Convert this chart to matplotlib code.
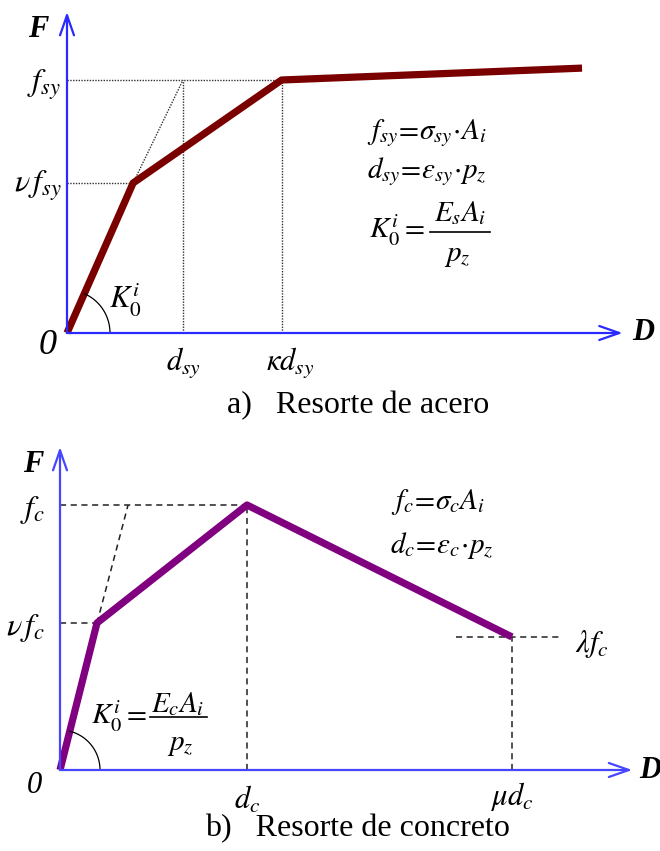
import numpy as np
import matplotlib
matplotlib.use("Agg")
import matplotlib.pyplot as plt

plt.rcParams['font.family'] = ['Liberation Serif', 'DejaVu Serif']
plt.rcParams['mathtext.fontset'] = 'stix'

# ================= 数据 =================
# a) 钢弹簧: x 以 d_sy 为单位, y 以 f_sy 为单位
acero_d = [0.0, 0.57, 1.85, 4.44]
acero_f = [0.0, 0.593, 1.0, 1.047]
acero_dsy = 1.0
acero_kdsy = 1.85
acero_fsy = 1.0
acero_nufsy = 0.593

# b) 混凝土弹簧: x 以 d_c 为单位, y 以 f_c 为单位
conc_d = [0.0, 0.198, 1.0, 2.417]
conc_f = [0.0, 0.555, 1.0, 0.502]
conc_dc = 1.0
conc_mudc = 2.417
conc_fc = 1.0
conc_nufc = 0.555
conc_lamfc = 0.502
conc_aux_d = 0.364   # 辅助虚线与 f_c 交点

LBL = 22      # 轴上符号
EQ = 21       # 公式
CAP = 23      # 图题
fig = plt.figure(figsize=(6.6, 8.51), dpi=100)

# ---------- 工具函数 ----------
def make_axes(rect, xlim, ylim):
    ax = fig.add_axes(rect)
    ax.set_xlim(*xlim)
    ax.set_ylim(*ylim)
    ax.axis('off')
    return ax

def axis_arrows(ax, xend, yend, color):
    style = '->,head_length=1.2,head_width=0.42'
    for tip in [(xend, 0), (0, yend)]:
        ax.annotate('', xy=tip, xytext=(0, 0),
                    arrowprops=dict(arrowstyle=style, color=color, lw=1.6, mutation_scale=12,
                                    shrinkA=0, shrinkB=0))

def angle_arc(ax, d1, f1, r_px, px_x, px_y):
    # 以像素比例计算初始刚度角
    ang = np.arctan2(f1 * px_y, d1 * px_x)
    t = np.linspace(0, ang, 60)
    ax.plot(r_px / px_x * np.cos(t), r_px / px_y * np.sin(t), color='black', lw=0.9)

def stiffness_eq(ax, num, lhs_xy, bar_x, bar_y, num_xy, den_xy):
    # K0 = num / p_z, 分式手动排版
    ax.text(*lhs_xy, r'$K_0^i=$', fontsize=EQ, ha='right', va='center')
    ax.plot(bar_x, [bar_y, bar_y], color='black', lw=1.2)
    ax.text(*num_xy, num, fontsize=EQ, ha='center', va='center')
    ax.text(*den_xy, r'$p_z$', fontsize=EQ, ha='center', va='center')

# ================= 图 a: Resorte de acero =================
# 像素比例: x 116 px/单位, y 253 px/单位, 原点 (67, 333)
ax1 = make_axes([0, 426 / 851, 1, 425 / 851], (-67 / 116, 593 / 116), ((333 - 425) / 253, 333 / 253))
axis_arrows(ax1, 4.79, 1.269, '#2a2aff')

dot = dict(color='#333333', lw=1.0, ls=(0, (1, 1)))
ax1.plot([0, acero_kdsy], [acero_fsy, acero_fsy], **dot)
ax1.plot([0, acero_d[1]], [acero_nufsy, acero_nufsy], **dot)
ax1.plot([acero_dsy, acero_dsy], [0, acero_fsy], **dot)
ax1.plot([acero_kdsy, acero_kdsy], [0, acero_fsy], **dot)
ax1.plot([acero_d[1], acero_dsy], [acero_nufsy, acero_fsy], **dot)

ax1.plot(acero_d, acero_f, color='#7a0000', lw=5.2, solid_capstyle='butt', solid_joinstyle='round')
angle_arc(ax1, acero_d[1], acero_f[1], 43, 116, 253)

ax1.text(-0.25, 1.20, 'F', fontsize=LBL, fontweight='bold', fontstyle='italic', ha='center', va='center')
ax1.text(4.97, 0, 'D', fontsize=LBL, fontweight='bold', fontstyle='italic', ha='center', va='center')
ax1.text(-0.17, -0.05, '0', fontsize=26, fontstyle='italic', ha='center', va='center')
ax1.text(-0.05, acero_fsy - 0.02, r'$f_{sy}$', fontsize=LBL + 1, ha='right', va='center')
ax1.text(-0.04, acero_nufsy - 0.01, r'$\nu\,f_{sy}$', fontsize=LBL + 1, ha='right', va='center')
ax1.text(acero_dsy, -0.12, r'$d_{sy}$', fontsize=LBL, ha='center', va='center')
ax1.text(acero_kdsy + 0.07, -0.12, r'$\kappa d_{sy}$', fontsize=LBL, ha='center', va='center')
ax1.text(0.5, 0.13, r'$K_0^i$', fontsize=LBL, ha='center', va='center')

ax1.text(3.10, 0.79, r'$f_{sy}\!=\!\sigma_{sy}\!\cdot\!A_i$', fontsize=EQ, ha='center', va='center')
ax1.text(3.10, 0.636, r'$d_{sy}\!=\!\varepsilon_{sy}\!\cdot\!p_z$', fontsize=EQ, ha='center', va='center')
stiffness_eq(ax1, r'$E_s A_i$', (3.086, 0.407), [3.129, 3.647], 0.399, (3.388, 0.474), (3.362, 0.304))

fig.text(358 / 660, 1 - 406 / 851, 'a)   Resorte de acero', fontsize=CAP, ha='center', va='center')

# ================= 图 b: Resorte de concreto =================
# 像素比例: x 187 px/单位, y 265 px/单位, 原点 (60, 770)
ax2 = make_axes([0, 0, 1, 426 / 851], (-60 / 187, 600 / 187), ((770 - 851) / 265, (770 - 425) / 265))
axis_arrows(ax2, 3.06, 1.219, '#4646ff')

dash = dict(color='#222222', lw=1.1, ls=(0, (4, 3)))
ax2.plot([0, conc_dc], [conc_fc, conc_fc], **dash)
ax2.plot([0, conc_d[1]], [conc_nufc, conc_nufc], **dash)
ax2.plot([conc_dc, conc_dc], [0, conc_fc], **dash)
ax2.plot([conc_mudc, conc_mudc], [0, conc_lamfc], **dash)
ax2.plot([conc_mudc - 0.3, conc_mudc + 0.27], [conc_lamfc, conc_lamfc], **dash)
ax2.plot([conc_d[1], conc_aux_d], [conc_nufc, conc_fc], **dash)

ax2.plot(conc_d, conc_f, color='#800080', lw=5.2, solid_capstyle='butt', solid_joinstyle='round')
angle_arc(ax2, conc_d[1], conc_f[1], 40, 187, 265)

ax2.text(-0.144, 1.151, 'F', fontsize=LBL, fontweight='bold', fontstyle='italic', ha='center', va='center')
ax2.text(3.155, 0, 'D', fontsize=LBL, fontweight='bold', fontstyle='italic', ha='center', va='center')
ax2.text(-0.134, -0.06, '0', fontsize=22, fontstyle='italic', ha='center', va='center')
ax2.text(-0.08, conc_fc - 0.02, r'$f_c$', fontsize=LBL + 1, ha='right', va='center')
ax2.text(-0.08, conc_nufc - 0.02, r'$\nu\,f_c$', fontsize=LBL + 1, ha='right', va='center')
ax2.text(conc_dc, -0.115, r'$d_c$', fontsize=LBL, ha='center', va='center')
ax2.text(conc_mudc, -0.10, r'$\mu d_c$', fontsize=LBL, ha='center', va='center')
ax2.text(2.754, conc_lamfc - 0.025, r'$\lambda f_c$', fontsize=LBL, ha='left', va='center')
stiffness_eq(ax2, r'$E_c A_i$', (0.465, 0.204), [0.481, 0.786], 0.200, (0.631, 0.249), (0.642, 0.094))

ax2.text(2.02, 1.011, r'$f_c\!=\!\sigma_c A_i$', fontsize=EQ, ha='center', va='center')
ax2.text(2.04, 0.849, r'$d_c\!=\!\varepsilon_c\!\cdot\!p_z$', fontsize=EQ, ha='center', va='center')

fig.text(357 / 660, 1 - 829 / 851, 'b)   Resorte de concreto', fontsize=CAP, ha='center', va='center')

fig.savefig('out.png', dpi=100)
